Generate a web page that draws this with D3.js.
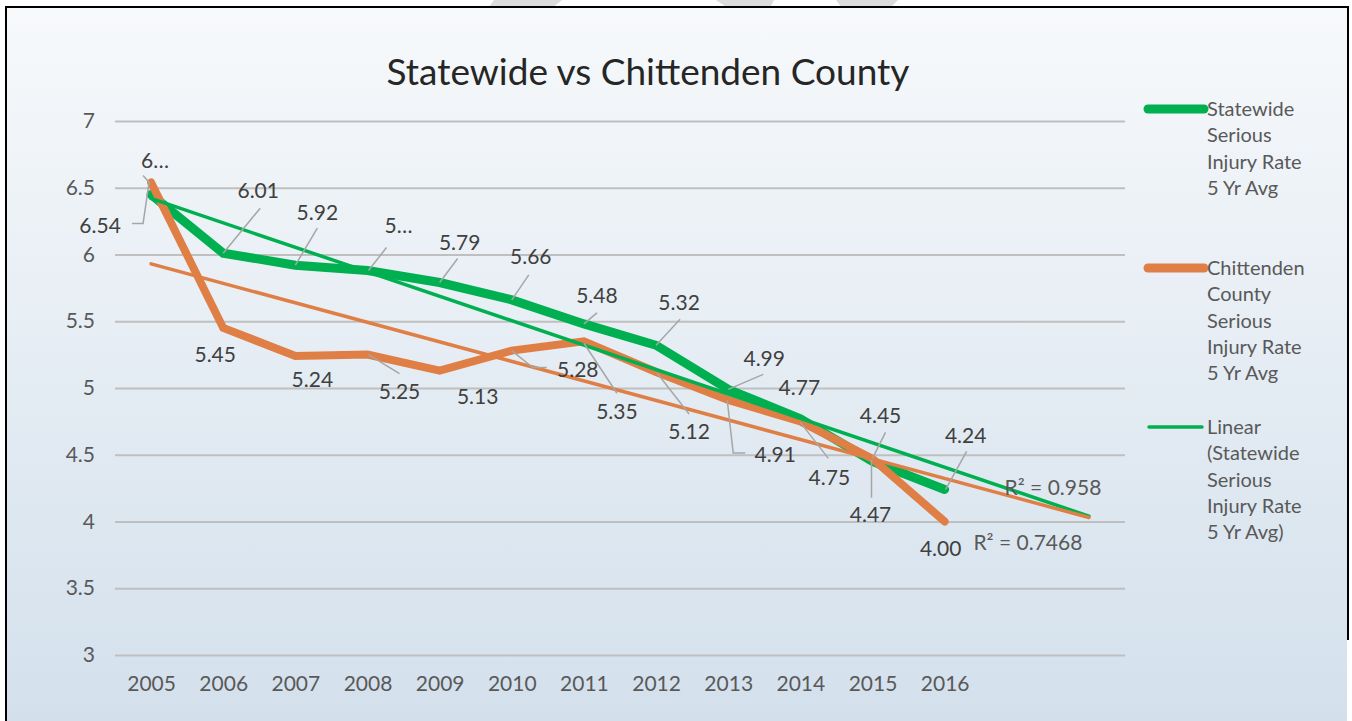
<!DOCTYPE html>
<html>
<head>
<meta charset="utf-8">
<script src="https://cdn.jsdelivr.net/npm/d3@7"></script>
<style>
body { margin: 0; background: #ffffff; }
text { font-family: Lato, "Open Sans", sans-serif; }
</style>
</head>
<body>
<div id="chart"></div>
<script>
const width = 1352;
const height = 721;

//Data
const years = ["2005", "2006", "2007", "2008", "2009", "2010", "2011", "2012", "2013", "2014", "2015", "2016"];
const forecastYears = ["2017", "2018"]; // trendlines run 2 periods forward, no labels
const statewide = [6.45, 6.01, 5.92, 5.88, 5.79, 5.66, 5.48, 5.32, 4.99, 4.77, 4.45, 4.24];
const chittenden = [6.54, 5.45, 5.24, 5.25, 5.13, 5.28, 5.35, 5.12, 4.91, 4.75, 4.47, 4.00];
const statewideLabels = ["6…", "6.01", "5.92", "5…", "5.79", "5.66", "5.48", "5.32", "4.99", "4.77", "4.45", "4.24"];
const chittendenLabels = ["6.54", "5.45", "5.24", "5.25", "5.13", "5.28", "5.35", "5.12", "4.91", "4.75", "4.47", "4.00"];
// trendline end points (2005 and 2018)
const trendYears = ["2005", "2018"];
const statewideTrend = [6.42, 4.04];
const chittendenTrend = [5.93, 4.03];
const r2Labels = ["R² = 0.958", "R² = 0.7468"];
const yTicks = [3, 3.5, 4, 4.5, 5, 5.5, 6, 6.5, 7];
const legendItems = [
    ["Statewide", "Serious", "Injury Rate", "5 Yr Avg"],
    ["Chittenden", "County", "Serious", "Injury Rate", "5 Yr Avg"],
    ["Linear", "(Statewide", "Serious", "Injury Rate", "5 Yr Avg)"]
];

//Layout of the data labels: offset of label from its point, and leader line points (relative to point)
const greenLabelPos = [
    {dx: 4, dy: -34, lead: [[-8, -19], [-1, -11]]},
    {dx: 35, dy: -63, lead: [[37, -45], [0, 0]]},
    {dx: 22, dy: -53, lead: [[22, -37], [0, 0]]},
    {dx: 31, dy: -45, lead: [[19, -23], [1, 0]]},
    {dx: 20, dy: -40, lead: [[18, -24], [0, 0]]},
    {dx: 19, dy: -43, lead: [[17, -25], [0, 0]]},
    {dx: 13, dy: -28, lead: [[13, -11], [0, 0]]},
    {dx: 23, dy: -43, lead: [[24, -26], [0, 0]]},
    {dx: 36, dy: -31, lead: [[35, -15], [0, 0]]},
    {dx: -1, dy: -31, lead: null},
    {dx: 8, dy: -46, lead: [[13, -29], [0, -3]]},
    {dx: 21, dy: -54, lead: [[22, -38], [1, 0]]}
];
const orangeLabelPos = [
    {dx: -51, dy: 43, lead: [[-19, 41], [-8, 41], [-2, 0]]},
    {dx: -8, dy: 27, lead: null},
    {dx: 17, dy: 24, lead: null},
    {dx: 32, dy: 37, lead: [[32, 19], [1, 0]]},
    {dx: 38, dy: 26, lead: null},
    {dx: 66, dy: 19, lead: [[35, 17], [21, 17], [0, 0]]},
    {dx: 33, dy: 70, lead: [[33, 52], [0, 2]]},
    {dx: 33, dy: 60, lead: [[33, 42], [1, 1]]},
    {dx: 47, dy: 55, lead: [[17, 53], [5, 53], [-1, 0]]},
    {dx: 29, dy: 56, lead: [[28, 37], [0, 1]]},
    {dx: -2, dy: 56, lead: [[-1, 39], [-1, 1]]},
    {dx: -4, dy: 27, lead: null}
];

const green = "#00b050";
const orange = "#e07f45";

const plot = {left: 115, right: 1125, top: 121, bottom: 655};

const xScale = d3.scalePoint()
    .domain(years.concat(forecastYears))
    .range([plot.left, plot.right])
    .padding(0.5);

const yScale = d3.scaleLinear()
    .domain([3, 7])
    .range([plot.bottom, plot.top]);

const svg = d3.select("#chart").append("svg").attr("width", width).attr("height", height);

//background
const defs = svg.append("defs");
const grad = defs.append("linearGradient").attr("id", "bg").attr("x1", 0).attr("y1", 0).attr("x2", 0).attr("y2", 1);
grad.append("stop").attr("offset", "0%").attr("stop-color", "#f7f9fb");
grad.append("stop").attr("offset", "100%").attr("stop-color", "#d3e0ec");

svg.append("rect").attr("x", 0).attr("y", 0).attr("width", width).attr("height", height).attr("fill", "#ffffff");
// faint shapes of the slide behind, visible above the chart
[[[494, 0], [562, 0], [552, 8], [488, 8]],
 [[716, 0], [774, 0], [770, 8], [728, 8]],
 [[836, 0], [898, 0], [890, 8], [842, 8]]].forEach(p => {
    svg.append("polygon").attr("points", p.join(" ")).attr("fill", "#dcdcdc");
});
svg.append("rect").attr("x", 7).attr("y", 8).attr("width", 1340).attr("height", height - 8).attr("fill", "url(#bg)");
svg.append("line").attr("x1", 5).attr("x2", 1349).attr("y1", 7).attr("y2", 7).attr("stroke", "#000").attr("stroke-width", 2);
svg.append("line").attr("x1", 6).attr("x2", 6).attr("y1", 6).attr("y2", height).attr("stroke", "#000").attr("stroke-width", 2);
svg.append("line").attr("x1", 1348).attr("x2", 1348).attr("y1", 6).attr("y2", 640).attr("stroke", "#000").attr("stroke-width", 2);

//title
svg.append("text")
    .attr("x", 648).attr("y", 85)
    .attr("text-anchor", "middle")
    .attr("font-size", 37)
    .attr("fill", "#262626")
    .text("Statewide vs Chittenden County");

//gridlines + y axis
const yAxis = d3.axisLeft(yScale).tickValues(yTicks).tickSize(plot.right - plot.left).tickFormat(d3.format("~g"));
const yg = svg.append("g")
    .attr("transform", `translate(${plot.right},0)`)
    .call(yAxis);
yg.select(".domain").remove();
yg.selectAll(".tick line").attr("stroke", "#bfbfbf").attr("stroke-width", 2);
yg.selectAll(".tick text")
    .attr("x", -(plot.right - plot.left) - 20)
    .attr("font-size", 21)
    .attr("fill", "#595959");

//x axis
const xAxis = d3.axisBottom(xScale).tickSize(0).tickFormat(d => years.includes(d) ? d : "");
const xg = svg.append("g")
    .attr("transform", `translate(0,${plot.bottom})`)
    .call(xAxis);
xg.select(".domain").remove();
xg.selectAll(".tick text")
    .attr("dy", 0)
    .attr("y", 36)
    .attr("font-size", 21)
    .attr("fill", "#595959");

//lines
const line = d3.line()
    .x((d, i) => xScale(years[i]))
    .y(d => yScale(d));

const trendLine = d3.line()
    .x((d, i) => xScale(trendYears[i]))
    .y(d => yScale(d));

svg.append("path")
    .datum(statewide)
    .attr("fill", "none")
    .attr("stroke", green)
    .attr("stroke-width", 9)
    .attr("stroke-linecap", "round")
    .attr("d", line);

svg.append("path")
    .datum(chittenden)
    .attr("fill", "none")
    .attr("stroke", orange)
    .attr("stroke-width", 8)
    .attr("stroke-linecap", "round")
    .attr("d", line);

svg.append("path")
    .datum(statewideTrend)
    .attr("fill", "none")
    .attr("stroke", green)
    .attr("stroke-width", 3.5)
    .attr("stroke-linecap", "round")
    .attr("d", trendLine);

svg.append("path")
    .datum(chittendenTrend)
    .attr("fill", "none")
    .attr("stroke", orange)
    .attr("stroke-width", 3.5)
    .attr("stroke-linecap", "round")
    .attr("d", trendLine);

//data labels with leader lines
function drawLabels(values, labels, pos) {
    values.forEach((v, i) => {
        const px = xScale(years[i]);
        const py = yScale(v);
        const p = pos[i];
        if (p.lead) {
            svg.append("polyline")
                .attr("points", p.lead.map(q => [px + q[0], py + q[1]]).join(" "))
                .attr("fill", "none")
                .attr("stroke", "#a6a6a6")
                .attr("stroke-width", 1.5);
        }
        svg.append("text")
            .attr("x", px + p.dx)
            .attr("y", py + p.dy)
            .attr("dy", "0.35em")
            .attr("text-anchor", "middle")
            .attr("font-size", 21)
            .attr("fill", "#404040")
            .text(labels[i]);
    });
}
drawLabels(statewide, statewideLabels, greenLabelPos);
drawLabels(chittenden, chittendenLabels, orangeLabelPos);

//R squared labels
const endX = xScale(trendYears[1]);
svg.append("text")
    .attr("x", endX - 36).attr("y", yScale(statewideTrend[1]) - 29)
    .attr("dy", "0.35em").attr("text-anchor", "middle")
    .attr("font-size", 21).attr("fill", "#595959")
    .text(r2Labels[0]);
svg.append("text")
    .attr("x", endX - 61).attr("y", yScale(chittendenTrend[1]) + 25)
    .attr("dy", "0.35em").attr("text-anchor", "middle")
    .attr("font-size", 21).attr("fill", "#595959")
    .text(r2Labels[1]);

//legend
const legendY = [109, 268, 427];
const legendStyle = [
    {color: green, w: 9, x1: 1148, x2: 1204},
    {color: orange, w: 9, x1: 1148, x2: 1204},
    {color: green, w: 3.5, x1: 1149, x2: 1202}
];
legendItems.forEach((lines, i) => {
    const s = legendStyle[i];
    svg.append("line")
        .attr("x1", s.x1).attr("x2", s.x2)
        .attr("y1", legendY[i]).attr("y2", legendY[i])
        .attr("stroke", s.color)
        .attr("stroke-width", s.w)
        .attr("stroke-linecap", "round");
    lines.forEach((t, j) => {
        svg.append("text")
            .attr("x", 1207)
            .attr("y", legendY[i] + j * 26.3)
            .attr("dy", "0.35em")
            .attr("font-size", 20)
            .attr("fill", "#595959")
            .text(t);
    });
});
</script>
</body>
</html>
